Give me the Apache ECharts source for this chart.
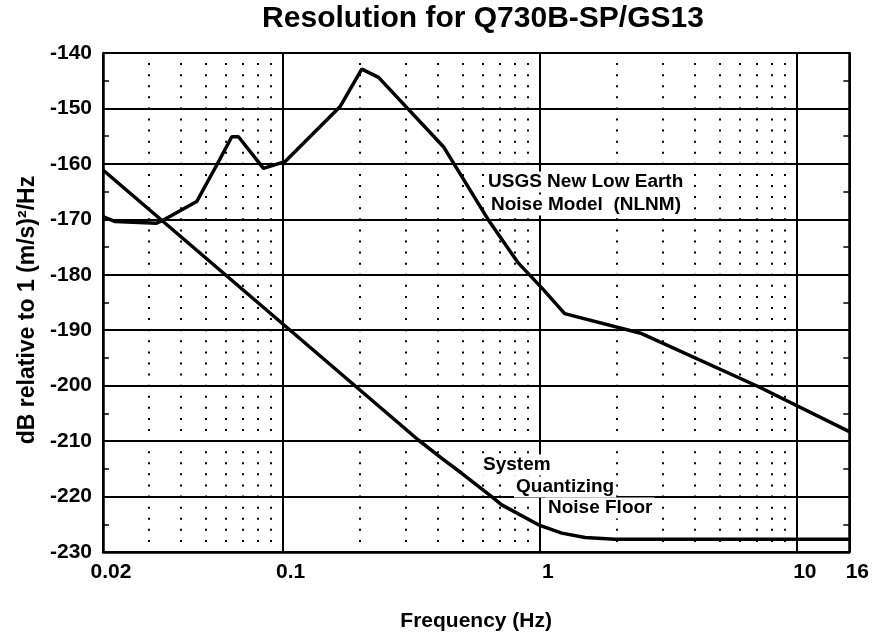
<!DOCTYPE html>
<html><head><meta charset="utf-8">
<script src="https://cdn.jsdelivr.net/npm/echarts@6/dist/echarts.min.js"></script>
<style>html,body{margin:0;padding:0;background:#fff}#c{width:872px;height:639px}</style>
</head><body><div id="c"></div>
<script>
// NLNM curve (frequency Hz, dB)
const nlnmFreq = [0.02, 0.0223, 0.0323, 0.0348, 0.0463, 0.0554, 0.0634, 0.0673, 0.0842, 0.102, 0.167, 0.203, 0.236, 0.422, 0.631, 0.826, 1.02, 1.25, 2.49, 7.10, 16];
const nlnmDb   = [-169.5, -170.4, -170.7, -170.0, -166.8, -160.2, -155.1, -155.1, -160.8, -159.6, -149.7, -142.9, -144.4, -156.9, -170.1, -177.9, -182.4, -187.0, -190.6, -200.2, -208.3];
// System quantizing noise floor
const floorFreq = [0.02, 0.337, 0.416, 0.497, 0.65, 0.711, 0.988, 1.218, 1.5, 1.96, 16];
const floorDb   = [-161.1, -209.8, -213.1, -215.8, -220.0, -221.5, -225.1, -226.6, -227.4, -227.7, -227.7];
// axis ticks
const xTickValues = [0.02, 0.1, 1, 10, 16];
const xTickLabels = ['0.02', '0.1', '1', '10', '16'];
const minorFreqs = [0.03, 0.04, 0.05, 0.06, 0.07, 0.08, 0.09, 0.2, 0.3, 0.4, 0.5, 0.6, 0.7, 0.8, 0.9, 2, 3, 4, 5, 6, 7, 8, 9];
const yMin = -230, yMax = -140, yStep = 10;

const FONT = "'Liberation Sans', Arial, Helvetica, sans-serif";
const chart = echarts.init(document.getElementById('c'), null, {renderer: 'canvas'});

function fmtX(v) {
  let best = 0, bd = Infinity;
  xTickValues.forEach((t, i) => { const d = Math.abs(Math.log10(v) - Math.log10(t)); if (d < bd) { bd = d; best = i; } });
  return bd < 0.01 ? xTickLabels[best] : '';
}

const txt = (text, x, y, size) => ({
  type: 'text', z: 50, silent: true,
  style: { text, x, y, fill: '#000', font: 'bold ' + size + 'px ' + FONT, align: 'left', verticalAlign: 'middle', backgroundColor: '#fff', padding: [1, 2, 1, 2] }
});

chart.setOption({
  animation: false,
  backgroundColor: '#fff',
  grid: { left: 103, right: 22, top: 53, bottom: 87, containLabel: false },
  xAxis: {
    type: 'log', logBase: 10, min: 0.02, max: 16,
    name: 'Frequency (Hz)', nameLocation: 'middle', nameGap: 59,
    nameTextStyle: { fontFamily: FONT, fontWeight: 'bold', fontSize: 21, color: '#000' },
    axisLine: { show: true, lineStyle: { color: '#000', width: 2.5 } },
    axisTick: { show: false },
    minorTick: { show: false },
    axisLabel: { formatter: fmtX, fontFamily: FONT, fontWeight: 'bold', fontSize: 21, color: '#000', margin: 10, padding: [0, 0, 0, 16], showMinLabel: true, showMaxLabel: true },
    splitLine: { show: true, lineStyle: { color: '#000', width: 2, type: 'solid' } }
  },
  yAxis: [{
    type: 'value', min: yMin, max: yMax, interval: yStep,
    name: 'dB relative to 1 (m/s)\u00b2/Hz', nameLocation: 'middle', nameGap: 64,
    nameTextStyle: { fontFamily: FONT, fontWeight: 'bold', fontSize: 23, color: '#000', padding: [0, 15, 0, 0] },
    axisLine: { show: true, lineStyle: { color: '#000', width: 2.5 } },
    axisTick: { show: true, inside: true, length: 6, lineStyle: { color: '#000', width: 1.5 } },
    minorTick: { show: true, splitNumber: 2, length: 6, lineStyle: { color: '#000', width: 1.5 } },
    axisLabel: { fontFamily: FONT, fontWeight: 'bold', fontSize: 21, color: '#000', margin: 11 },
    splitLine: { show: true, lineStyle: { color: '#000', width: 2 } }
  }, {
    type: 'value', min: yMin, max: yMax, interval: yStep, position: 'right',
    axisLine: { show: true, lineStyle: { color: '#000', width: 2.5 } },
    axisTick: { show: true, inside: true, length: 6, lineStyle: { color: '#000', width: 1.5 } },
    minorTick: { show: true, splitNumber: 2, length: 6, lineStyle: { color: '#000', width: 1.5 } },
    axisLabel: { show: false },
    splitLine: { show: false }
  }],
  series: [{
    type: 'line', name: 'grid', data: [], silent: true, z: 1,
    markLine: {
      silent: true, symbol: ['none', 'none'], label: { show: false }, animation: false,
      lineStyle: { color: '#000', width: 2, type: [2, 9.09], dashOffset: 1 },
      emphasis: { disabled: true },
      data: minorFreqs.map(f => ({ xAxis: f }))
    }
  }, {
    type: 'line', name: 'NLNM', data: nlnmFreq.map((f, i) => [f, nlnmDb[i]]),
    showSymbol: false, symbol: 'none', z: 5,
    lineStyle: { color: '#000', width: 3.5 }
  }, {
    type: 'line', name: 'Noise floor', data: floorFreq.map((f, i) => [f, floorDb[i]]),
    showSymbol: false, symbol: 'none', z: 5,
    lineStyle: { color: '#000', width: 3.5 }
  }],
  graphic: [
    { type: 'text', z: 50, silent: true, style: { text: 'Resolution for Q730B-SP/GS13', x: 483, y: 19, fill: '#000', font: 'bold 30px ' + FONT, align: 'center', verticalAlign: 'middle' } },
    txt('USGS New Low Earth', 486, 182, 19),
    txt('Noise Model  (NLNM)', 489, 205, 19),
    txt('System', 481, 465, 19),
    txt('Quantizing', 514, 487, 19),
    txt('Noise Floor', 546, 508, 19)
  ]
});
</script></body></html>
